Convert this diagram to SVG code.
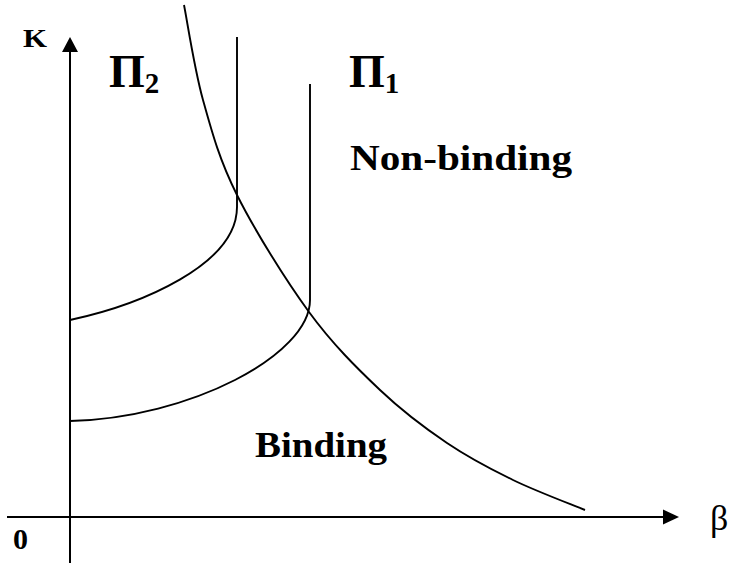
<svg xmlns="http://www.w3.org/2000/svg" width="734" height="569" viewBox="0 0 734 569">
<style>
.ax{stroke:#000;stroke-width:2;fill:none}
.cv{stroke:#000;stroke-width:1.9;fill:none}
.b{font-family:"Liberation Serif",serif;font-weight:bold;fill:#000}
.r{font-family:"Liberation Serif",serif;fill:#000}
</style>
<rect width="734" height="569" fill="#fff"/>
<g id="connectors">
<line class="ax" x1="70" y1="563" x2="70" y2="50"/>
<polygon points="70,37 62,52 78,52" fill="#000"/>
<line class="ax" x1="7" y1="517" x2="665" y2="517"/>
<polygon points="679,517 663,509.5 663,524.5" fill="#000"/>
</g>
<g id="hyperbola">
<path class="cv" d="M184,5 C187.2,20.8 194.2,68.3 203,100 C211.8,131.7 219.3,159.7 237,195 C254.7,230.3 285.2,279.5 309,312 C332.8,344.5 357,368.2 380,390 C403,411.8 424.8,428 447,443 C469.2,458 490,468.8 513,480 C536,491.2 573,505 585,510"/>
</g>
<g id="pi2-curve">
<path class="cv" d="M237,37 L237,207 C237,265 140,305 70,320"/>
</g>
<g id="pi1-curve">
<path class="cv" d="M310,84 L310,300 C310,355 190,418 70,421"/>
</g>
<g id="labels">
<text class="b" x="23" y="47" font-size="26" textLength="24" lengthAdjust="spacingAndGlyphs">K</text>
<text class="b" x="13" y="549" font-size="30">0</text>
<text class="r" x="710" y="530" font-size="36">β</text>
<text class="b" x="109" y="87" font-size="46">Π<tspan font-size="29" dy="6">2</tspan></text>
<text class="b" x="349" y="87" font-size="46">Π<tspan font-size="29" dy="6">1</tspan></text>
<text class="b" x="350" y="170" font-size="36" textLength="222" lengthAdjust="spacingAndGlyphs">Non-binding</text>
<text class="b" x="255" y="457" font-size="36" textLength="132" lengthAdjust="spacingAndGlyphs">Binding</text>
</g>
</svg>
